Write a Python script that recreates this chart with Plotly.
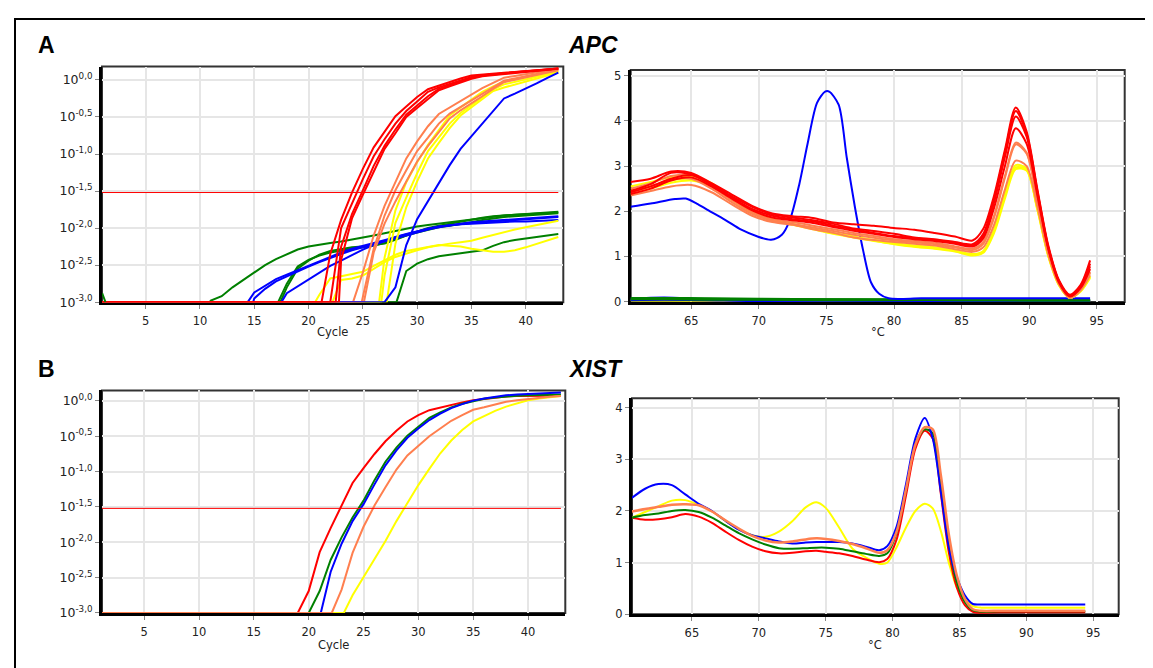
import plotly.graph_objects as go

W, H = 1153, 668
LAST_CYCLE = 43
BASELINE = -3.0

# ---------------- APC amplification: log10 exponent of fluorescence ----------------
# each curve: (cycle where it leaves the baseline, values at the following whole cycles up to 43)
apc_amp_red = [
    (21.2, [-2.35, -1.89, -1.52, -1.2, -0.91, -0.70, -0.49, -0.36, -0.23, -0.125, -0.075,
            -0.025, 0.02, 0.06, 0.072, 0.084, 0.096, 0.107, 0.119, 0.131, 0.143, 0.155]),
    (22.0, [-2.0, -1.66, -1.34, -1.03, -0.80, -0.59, -0.42, -0.29, -0.16, -0.10, -0.05,
            0.0, 0.04, 0.065, 0.08, 0.093, 0.105, 0.117, 0.129, 0.141, 0.153]),
    (22.5, [-2.25, -1.81, -1.49, -1.16, -0.89, -0.67, -0.47, -0.35, -0.22, -0.12, -0.07,
            -0.015, 0.025, 0.06, 0.074, 0.087, 0.101, 0.114, 0.128, 0.141, 0.155]),
    (22.8, [-2.43, -1.87, -1.55, -1.23, -0.93, -0.72, -0.5, -0.38, -0.26, -0.14, -0.086,
            -0.032, 0.014, 0.05, 0.064, 0.079, 0.093, 0.107, 0.121, 0.136, 0.15]),
]
apc_amp_orange = [
    (24.1, [-2.6, -2.1, -1.70, -1.37, -1.06, -0.83, -0.625, -0.46, -0.37, -0.28, -0.19,
            -0.11, -0.04, 0.03, 0.054, 0.078, 0.102, 0.126, 0.15]),
    (24.9, [-2.93, -2.28, -1.83, -1.49, -1.22, -0.96, -0.78, -0.59, -0.455, -0.365, -0.275,
            -0.185, -0.097, -0.01, 0.02, 0.05, 0.08, 0.11, 0.14]),
    (25.1, [-2.33, -1.94, -1.64, -1.36, -1.10, -0.89, -0.70, -0.52, -0.41, -0.32, -0.22,
            -0.12, -0.03, 0.002, 0.034, 0.066, 0.098, 0.13]),
]
apc_amp_yellow = [
    (26.5, [-2.4, -1.76, -1.38, -1.11, -0.875, -0.67, -0.48, -0.37, -0.27, -0.16, -0.087,
            -0.02, 0.008, 0.036, 0.064, 0.092, 0.12]),
    (26.7, [-2.64, -1.93, -1.59, -1.26, -0.96, -0.78, -0.59, -0.445, -0.34, -0.23, -0.127,
            -0.06, -0.026, 0.008, 0.042, 0.076, 0.11]),
    (27.2, [-2.21, -1.72, -1.37, -1.06, -0.85, -0.65, -0.48, -0.37, -0.26, -0.15, -0.103,
            -0.063, -0.022, 0.019, 0.059, 0.10]),
]
apc_amp_blue = [
    (27.0, [-2.8, -2.23, -1.88, -1.64, -1.40, -1.15, -0.93, -0.76, -0.59, -0.42, -0.25,
            -0.185, -0.12, -0.047, 0.027, 0.10]),
]
apc_amp_green_low = [
    (10.9, [-2.98, -2.92, -2.8, -2.7, -2.6, -2.5, -2.42, -2.35, -2.29, -2.25,
            -2.22, -2.2, -2.18, -2.15, -2.12, -2.10, -2.07, -2.04, -2.0, -1.98,
            -1.96, -1.94, -1.92, -1.9, -1.88, -1.86, -1.84, -1.83, -1.82, -1.81,
            -1.8, -1.8, -1.79]),
    (17.2, [-2.75, -2.52, -2.43, -2.37, -2.33, -2.30, -2.28, -2.26, -2.24, -2.2,
            -2.15, -2.09, -2.04, -2.0, -1.97, -1.94, -1.92, -1.89, -1.86, -1.84,
            -1.83, -1.82, -1.81, -1.8, -1.79, -1.78]),
    (17.4, [-2.8, -2.55, -2.44, -2.36, -2.31, -2.28, -2.26, -2.25, -2.23, -2.21,
            -2.16, -2.1, -2.06, -2.02, -1.99, -1.97, -1.95, -1.92, -1.89, -1.87,
            -1.85, -1.84, -1.83, -1.82, -1.81, -1.80]),
    (28.1, [-2.58, -2.48, -2.42, -2.38, -2.36, -2.34, -2.33, -2.30, -2.24, -2.19,
            -2.16, -2.14, -2.12, -2.10, -2.08]),
]
apc_amp_blue_low = [
    (14.4, [-2.87, -2.78, -2.69, -2.63, -2.57, -2.50, -2.44, -2.38, -2.33, -2.28,
            -2.24, -2.21, -2.16, -2.12, -2.09, -2.05, -2.01, -1.98, -1.96, -1.94,
            -1.93, -1.92, -1.91, -1.9, -1.89, -1.88, -1.87, -1.86, -1.85]),
    (14.9, [-2.95, -2.82, -2.72, -2.65, -2.59, -2.52, -2.46, -2.40, -2.35, -2.30,
            -2.26, -2.22, -2.18, -2.14, -2.1, -2.06, -2.02, -1.99, -1.96, -1.94,
            -1.92, -1.91, -1.90, -1.89, -1.88, -1.87, -1.86, -1.85, -1.84]),
    (17.5, [-2.88, -2.79, -2.70, -2.60, -2.51, -2.44, -2.36, -2.29, -2.23, -2.17,
            -2.12, -2.08, -2.04, -2.01, -1.98, -1.96, -1.95, -1.94, -1.93, -1.93,
            -1.92, -1.91, -1.91, -1.90, -1.89, -1.89]),
]
apc_amp_yellow_low = [
    (20.6, [-2.9, -2.68, -2.65, -2.62, -2.59, -2.51, -2.43, -2.36, -2.31, -2.28,
            -2.25, -2.23, -2.24, -2.25, -2.28, -2.30, -2.32, -2.32, -2.30, -2.26,
            -2.21, -2.17, -2.12]),
    (22.2, [-2.70, -2.68, -2.64, -2.55, -2.46, -2.39, -2.34, -2.30, -2.26, -2.23,
            -2.21, -2.19, -2.17, -2.13, -2.09, -2.05, -2.02, -1.99, -1.96, -1.93,
            -1.90]),
]
apc_amp_green_spike_x = [1.0, 1.3]
apc_amp_green_spike_y = [-2.88, -3.0]
threshold_exp = -1.52

# ---------------- XIST amplification ----------------
xist_amp_red = [(19.0, [-2.69, -2.14, -1.80, -1.47, -1.16, -0.95, -0.75, -0.57, -0.42, -0.29,
                        -0.2, -0.13, -0.09, -0.05, -0.02, 0.01, 0.03, 0.05, 0.065, 0.07,
                        0.075, 0.075, 0.075, 0.075])]
xist_amp_green = [(20.0, [-2.69, -2.25, -1.93, -1.65, -1.41, -1.12, -0.86, -0.66, -0.49, -0.36,
                          -0.24, -0.16, -0.09, -0.04, 0.0, 0.03, 0.05, 0.065, 0.075, 0.08,
                          0.085, 0.09, 0.09])]
xist_amp_blue = [(21.1, [-2.42, -2.02, -1.70, -1.46, -1.18, -0.91, -0.70, -0.52, -0.39, -0.27,
                         -0.18, -0.10, -0.045, 0.005, 0.035, 0.06, 0.08, 0.09, 0.10, 0.11,
                         0.115, 0.12])]
xist_amp_orange = [(22.1, [-2.67, -2.15, -1.78, -1.48, -1.22, -0.97, -0.77, -0.63, -0.50, -0.39,
                           -0.28, -0.2, -0.125, -0.09, -0.05, -0.01, 0.01, 0.03, 0.05, 0.06,
                           0.07])]
xist_amp_yellow = [(23.2, [-2.75, -2.5, -2.25, -1.98, -1.70, -1.44, -1.19, -0.96, -0.74, -0.56,
                           -0.41, -0.29, -0.21, -0.14, -0.08, -0.03, 0.01, 0.035, 0.055, 0.07])]

# ---------------- APC melt curves (-dF/dT) ----------------
apc_melt_T = [60.5, 62, 63.5, 65, 66.5, 68, 69.5, 71, 72.5, 74, 75.5, 77, 78.5, 80, 81.5, 83,
              84.5, 85.8, 86.6, 87.4, 88.2, 89.0, 89.8, 90.6, 91.4, 92.2, 93.0, 93.8, 94.5]
apc_melt_red = [
    [2.65, 2.72, 2.88, 2.85, 2.62, 2.37, 2.12, 1.95, 1.89, 1.85, 1.75, 1.71, 1.68, 1.63, 1.59, 1.52,
     1.44, 1.35, 1.61, 2.35, 3.36, 4.3, 3.77, 2.49, 1.25, 0.47, 0.15, 0.37, 0.91],
    [2.42, 2.55, 2.72, 2.8, 2.6, 2.33, 2.1, 1.93, 1.86, 1.8, 1.72, 1.62, 1.56, 1.5, 1.42, 1.38,
     1.32, 1.27, 1.5, 2.28, 3.3, 4.22, 3.72, 2.45, 1.22, 0.45, 0.13, 0.34, 0.84],
    [2.45, 2.6, 2.85, 2.82, 2.58, 2.3, 2.05, 1.9, 1.82, 1.77, 1.68, 1.6, 1.52, 1.45, 1.4, 1.36,
     1.3, 1.24, 1.45, 2.2, 3.2, 4.1, 3.66, 2.42, 1.2, 0.44, 0.12, 0.32, 0.78],
    [2.38, 2.5, 2.68, 2.75, 2.55, 2.28, 2.02, 1.86, 1.8, 1.74, 1.65, 1.57, 1.5, 1.43, 1.38, 1.34,
     1.28, 1.22, 1.4, 2.08, 3.0, 3.84, 3.5, 2.35, 1.17, 0.42, 0.11, 0.3, 0.72],
]
apc_melt_orange = [
    [2.5, 2.62, 2.78, 2.8, 2.55, 2.25, 1.98, 1.82, 1.76, 1.68, 1.6, 1.52, 1.45, 1.38, 1.34, 1.3,
     1.22, 1.17, 1.32, 1.9, 2.78, 3.52, 3.3, 2.25, 1.12, 0.4, 0.1, 0.28, 0.66],
    [2.4, 2.55, 2.7, 2.72, 2.5, 2.2, 1.94, 1.79, 1.72, 1.64, 1.56, 1.48, 1.41, 1.35, 1.31, 1.27,
     1.2, 1.14, 1.28, 1.86, 2.74, 3.48, 3.28, 2.24, 1.11, 0.4, 0.09, 0.27, 0.63],
    [2.35, 2.45, 2.55, 2.58, 2.42, 2.15, 1.9, 1.76, 1.7, 1.6, 1.52, 1.42, 1.36, 1.32, 1.28, 1.24,
     1.16, 1.1, 1.2, 1.7, 2.48, 3.12, 3.0, 2.1, 1.05, 0.38, 0.08, 0.25, 0.58],
]
apc_melt_yellow = [
    [2.55, 2.65, 2.75, 2.78, 2.62, 2.3, 2.02, 1.83, 1.72, 1.62, 1.52, 1.44, 1.36, 1.3, 1.24, 1.2,
     1.13, 1.05, 1.12, 1.6, 2.38, 3.02, 2.95, 2.07, 1.03, 0.37, 0.08, 0.24, 0.56],
    [2.38, 2.5, 2.63, 2.68, 2.55, 2.25, 1.97, 1.8, 1.7, 1.6, 1.5, 1.42, 1.34, 1.28, 1.22, 1.18,
     1.12, 1.03, 1.1, 1.56, 2.33, 2.97, 2.92, 2.05, 1.02, 0.36, 0.08, 0.23, 0.55],
    [2.45, 2.55, 2.68, 2.72, 2.58, 2.27, 1.99, 1.81, 1.71, 1.61, 1.51, 1.43, 1.35, 1.27, 1.21, 1.17,
     1.11, 1.02, 1.08, 1.52, 2.28, 2.93, 2.9, 2.03, 1.01, 0.36, 0.08, 0.22, 0.52],
]
apc_melt_blue_T = [60.5, 62, 63.8, 64.6, 65.4, 66.2, 67.5, 68.7, 69.9, 70.9, 71.7, 72.3, 73.0, 73.6,
                   74.3, 74.9, 75.2, 75.9, 76.5, 77.1, 77.7, 78.3, 78.9, 79.6, 82, 86, 90, 94.5]
apc_melt_blue = [2.10, 2.17, 2.27, 2.28, 2.17, 2.03, 1.81, 1.59, 1.44, 1.37, 1.48, 1.81, 2.61, 3.49,
                 4.40, 4.65, 4.65, 4.36, 3.19, 2.10, 1.15, 0.42, 0.17, 0.07, 0.07, 0.07, 0.07, 0.07]
apc_melt_flat_T = [60.5, 63, 66, 70, 75, 80, 85, 90, 94.5]
apc_melt_flat_yellow = [
    [0.03, 0.03, 0.02, 0.02, 0.02, 0.02, 0.02, 0.02, 0.02],
    [0.02, 0.02, 0.02, 0.01, 0.01, 0.01, 0.01, 0.01, 0.01],
]
apc_melt_flat_blue = [
    [0.06, 0.09, 0.05, 0.03, 0.02, 0.02, 0.02, 0.02, 0.02],
    [0.04, 0.05, 0.04, 0.03, 0.02, 0.02, 0.02, 0.02, 0.02],
    [0.03, 0.04, 0.03, 0.01, 0.02, 0.01, 0.01, 0.01, 0.01],
]
apc_melt_flat_green = [
    [0.08, 0.08, 0.07, 0.06, 0.05, 0.05, 0.04, 0.04, 0.04],
    [0.06, 0.06, 0.05, 0.05, 0.04, 0.04, 0.04, 0.03, 0.03],
    [0.07, 0.07, 0.06, 0.05, 0.05, 0.04, 0.03, 0.03, 0.03],
    [0.05, 0.05, 0.04, 0.04, 0.03, 0.03, 0.03, 0.02, 0.02],
]

# ---------------- XIST melt curves ----------------
xist_melt_T = [60.5, 61.5, 62.5, 63.5, 64.5, 65.5, 66.5, 67.5, 68.5, 69.5, 70.5, 71.5, 72.5, 73.5,
               74.3, 75, 76, 77, 78, 79, 79.6, 80.3, 81, 81.7, 82.4, 83, 83.6, 84.2, 84.8, 85.4,
               86, 86.6, 88, 90, 92, 94.4]
xist_melt_yellow = [1.87, 1.98, 2.09, 2.2, 2.21, 2.12, 1.99, 1.81, 1.65, 1.53, 1.5, 1.6, 1.8, 2.07,
                    2.17, 2.06, 1.68, 1.27, 1.1, 0.98, 1.0, 1.3, 1.68, 2.0, 2.14, 2.05, 1.62, 1.0,
                    0.52, 0.3, 0.16, 0.13, 0.13, 0.13, 0.13, 0.13]
xist_melt_red = [1.87, 1.83, 1.84, 1.88, 1.94, 1.89, 1.77, 1.6, 1.44, 1.31, 1.22, 1.18, 1.19, 1.22,
                 1.23, 1.21, 1.18, 1.13, 1.06, 1.01, 1.07, 1.45, 2.3, 3.2, 3.55, 3.4, 2.34, 1.2,
                 0.52, 0.18, 0.05, 0.03, 0.04, 0.04, 0.04, 0.04]
xist_melt_green = [1.87, 1.92, 1.95, 2.0, 2.02, 1.98, 1.87, 1.72, 1.57, 1.45, 1.35, 1.28, 1.27, 1.28,
                   1.29, 1.29, 1.27, 1.22, 1.17, 1.13, 1.18, 1.58, 2.42, 3.3, 3.58, 3.5, 2.5, 1.35,
                   0.62, 0.24, 0.08, 0.05, 0.06, 0.06, 0.06, 0.06]
xist_melt_blue = [2.25, 2.43, 2.52, 2.5, 2.32, 2.14, 2.0, 1.81, 1.64, 1.53, 1.47, 1.41, 1.37, 1.39,
                  1.40, 1.40, 1.40, 1.37, 1.31, 1.24, 1.32, 1.7, 2.52, 3.4, 3.8, 3.4, 2.38, 1.3,
                  0.72, 0.37, 0.2, 0.19, 0.19, 0.19, 0.19, 0.19]
xist_melt_orange = [1.99, 2.04, 2.08, 2.12, 2.13, 2.11, 1.99, 1.82, 1.66, 1.52, 1.43, 1.39, 1.41, 1.45,
                    1.47, 1.46, 1.42, 1.36, 1.28, 1.19, 1.24, 1.6, 2.42, 3.28, 3.62, 3.58, 2.7, 1.55,
                    0.75, 0.3, 0.1, 0.07, 0.07, 0.07, 0.07, 0.07]

# ---------------- ticks / labels ----------------
amp_tick_exp = [0, -0.5, -1, -1.5, -2, -2.5, -3]
amp_tick_text = ["10<sup>0,0</sup>", "10<sup>-0,5</sup>", "10<sup>-1,0</sup>", "10<sup>-1,5</sup>",
                 "10<sup>-2,0</sup>", "10<sup>-2,5</sup>", "10<sup>-3,0</sup>"]
cycle_ticks = [5, 10, 15, 20, 25, 30, 35, 40]
temp_ticks = [65, 70, 75, 80, 85, 90, 95]
apc_melt_yticks = [0, 1, 2, 3, 4, 5]
xist_melt_yticks = [0, 1, 2, 3, 4]
panel_letters = ["A", "B"]
gene_names = ["APC", "XIST"]
cycle_title = "Cycle"
temp_title = "°C"

RED, ORANGE, YELLOW, BLUE, GREEN = "#ff0000", "#ff7f4f", "#ffff00", "#0000ff", "#008000"
FONT = "DejaVu Sans, Verdana, sans-serif"
TITLE_FONT = "Liberation Sans, Arial, sans-serif"

fig = go.Figure()


def add_amp(curves, color, ax):
    for exit_c, vals in curves:
        start = LAST_CYCLE - len(vals) + 1
        xs = [1, exit_c] + list(range(start, LAST_CYCLE + 1))
        ys = [BASELINE, BASELINE] + list(vals)
        fig.add_trace(go.Scatter(x=xs, y=ys, mode="lines", line=dict(color=color, width=2),
                                 xaxis="x" + ax, yaxis="y" + ax, hoverinfo="skip", showlegend=False))


def add_melt(T, vals, color, ax, width=2):
    fig.add_trace(go.Scatter(x=T, y=vals, mode="lines",
                             line=dict(color=color, width=width, shape="spline", smoothing=0.8),
                             xaxis="x" + ax, yaxis="y" + ax, hoverinfo="skip", showlegend=False))


# panel 1 (APC amplification)
add_amp(apc_amp_green_low, GREEN, "")
add_amp(apc_amp_blue_low, BLUE, "")
add_amp(apc_amp_yellow_low, YELLOW, "")
add_amp(apc_amp_yellow, YELLOW, "")
add_amp(apc_amp_orange, ORANGE, "")
add_amp(apc_amp_blue, BLUE, "")
add_amp(apc_amp_red, RED, "")
fig.add_trace(go.Scatter(x=apc_amp_green_spike_x, y=apc_amp_green_spike_y, mode="lines",
                         line=dict(color=GREEN, width=2), hoverinfo="skip", showlegend=False))
fig.add_trace(go.Scatter(x=[1, LAST_CYCLE], y=[threshold_exp, threshold_exp], mode="lines",
                         line=dict(color=RED, width=1), hoverinfo="skip", showlegend=False))

# panel 2 (APC melt)
for v in apc_melt_flat_yellow:
    add_melt(apc_melt_flat_T, v, YELLOW, "2")
for v in apc_melt_flat_blue:
    add_melt(apc_melt_flat_T, v, BLUE, "2")
for v in apc_melt_flat_green:
    add_melt(apc_melt_flat_T, v, GREEN, "2")
add_melt(apc_melt_blue_T, apc_melt_blue, BLUE, "2")
for v in apc_melt_yellow:
    add_melt(apc_melt_T, v, YELLOW, "2")
for v in apc_melt_orange:
    add_melt(apc_melt_T, v, ORANGE, "2")
for v in apc_melt_red:
    add_melt(apc_melt_T, v, RED, "2")

# panel 3 (XIST amplification)
add_amp(xist_amp_red, RED, "3")
add_amp(xist_amp_green, GREEN, "3")
add_amp(xist_amp_blue, BLUE, "3")
add_amp(xist_amp_yellow, YELLOW, "3")
add_amp(xist_amp_orange, ORANGE, "3")
fig.add_trace(go.Scatter(x=[1, LAST_CYCLE], y=[threshold_exp, threshold_exp], mode="lines",
                         line=dict(color=RED, width=1), xaxis="x3", yaxis="y3",
                         hoverinfo="skip", showlegend=False))

# panel 4 (XIST melt)
add_melt(xist_melt_T, xist_melt_yellow, YELLOW, "4")
add_melt(xist_melt_T, xist_melt_red, RED, "4")
add_melt(xist_melt_T, xist_melt_green, GREEN, "4")
add_melt(xist_melt_T, xist_melt_blue, BLUE, "4")
add_melt(xist_melt_T, xist_melt_orange, ORANGE, "4", width=2.5)

# ---------------- layout ----------------
# pixel boxes of the four plot areas: left, right, top, bottom
boxes = {
    "": (94, 555.3, 58.3, 296.7),
    "2": (622.7, 1116.7, 61.7, 296.5),
    "3": (94, 557.3, 386, 611.3),
    "4": (624, 1110.7, 394, 612.7),
}


def xdom(b):
    return [b[0] / W, b[1] / W]


def ydom(b):
    return [1 - b[3] / H, 1 - b[2] / H]


tickfont = dict(family=FONT, size=11.5, color="#222")
common = dict(showgrid=True, gridcolor="#e6e6e6", gridwidth=1.5, zeroline=False,
              ticks="outside", ticklen=4, tickcolor="#888", tickwidth=1,
              showline=True, linecolor="#000", linewidth=3, layer="below traces",
              tickfont=tickfont, fixedrange=True)

layout_axes = {}
for ax, b in boxes.items():
    layout_axes["xaxis" + ax] = dict(common, domain=xdom(b), anchor="y" + ax, ticklabelstandoff=2)
    layout_axes["yaxis" + ax] = dict(common, domain=ydom(b), anchor="x" + ax)

amp_tickfont = dict(family=FONT, size=12.5, color="#222")
layout_axes["xaxis"].update(range=[0.98, 43.46], tickvals=cycle_ticks)
layout_axes["yaxis"].update(range=[-3.0, 0.18], tickvals=amp_tick_exp, ticktext=amp_tick_text,
                            tickfont=amp_tickfont)
layout_axes["xaxis3"].update(range=[1.15, 43.4], tickvals=cycle_ticks)
layout_axes["yaxis3"].update(range=[-3.0, 0.15], tickvals=amp_tick_exp, ticktext=amp_tick_text,
                             tickfont=amp_tickfont)
layout_axes["xaxis2"].update(range=[60.52, 97.06], tickvals=temp_ticks)
layout_axes["yaxis2"].update(range=[-0.01, 5.13], tickvals=apc_melt_yticks)
layout_axes["xaxis4"].update(range=[60.52, 96.9], tickvals=temp_ticks)
layout_axes["yaxis4"].update(range=[0, 4.18], tickvals=xist_melt_yticks)

shapes = []
for ax in boxes:
    shapes.append(dict(type="rect", xref=("x" + ax) + " domain", yref=("y" + ax) + " domain",
                       x0=0, x1=1, y0=0, y1=1, line=dict(color="#333", width=2), layer="below"))
# outer frame
shapes.append(dict(type="rect", xref="paper", yref="paper", x0=7 / W, x1=1.05, y0=-0.05,
                   y1=1 - 10 / H, line=dict(color="#000", width=2), layer="above"))

annotations = []
for i, (letter, gene) in enumerate(zip(panel_letters, gene_names)):
    ycen = [36, 364][i]
    annotations.append(dict(x=38 / W, y=1 - ycen / H, xref="paper", yref="paper", text="<b>%s</b>" % letter,
                            showarrow=False, xanchor="center", yanchor="middle",
                            font=dict(family=TITLE_FONT, size=23, color="#000")))
    annotations.append(dict(x=558 / W, y=1 - ycen / H, xref="paper", yref="paper",
                            text="<b><i>%s</i></b>" % gene, showarrow=False, xanchor="left",
                            yanchor="middle", font=dict(family=TITLE_FONT, size=23, color="#000")))
for ax, title, ypix in [("", cycle_title, 326.7), ("2", temp_title, 326.7),
                        ("3", cycle_title, 643.3), ("4", temp_title, 643.3)]:
    b = boxes[ax]
    annotations.append(dict(x=(b[0] + b[1]) / 2 / W, y=1 - ypix / H, xref="paper", yref="paper",
                            text=title, showarrow=False, xanchor="center", yanchor="middle",
                            font=dict(family=FONT, size=11.5, color="#222")))

fig.update_layout(width=W, height=H, margin=dict(l=0, r=0, t=0, b=0),
                  paper_bgcolor="#fff", plot_bgcolor="#fff", showlegend=False,
                  shapes=shapes, annotations=annotations, **layout_axes)

fig.write_html("out.html", include_plotlyjs=True, config={"displayModeBar": False})
